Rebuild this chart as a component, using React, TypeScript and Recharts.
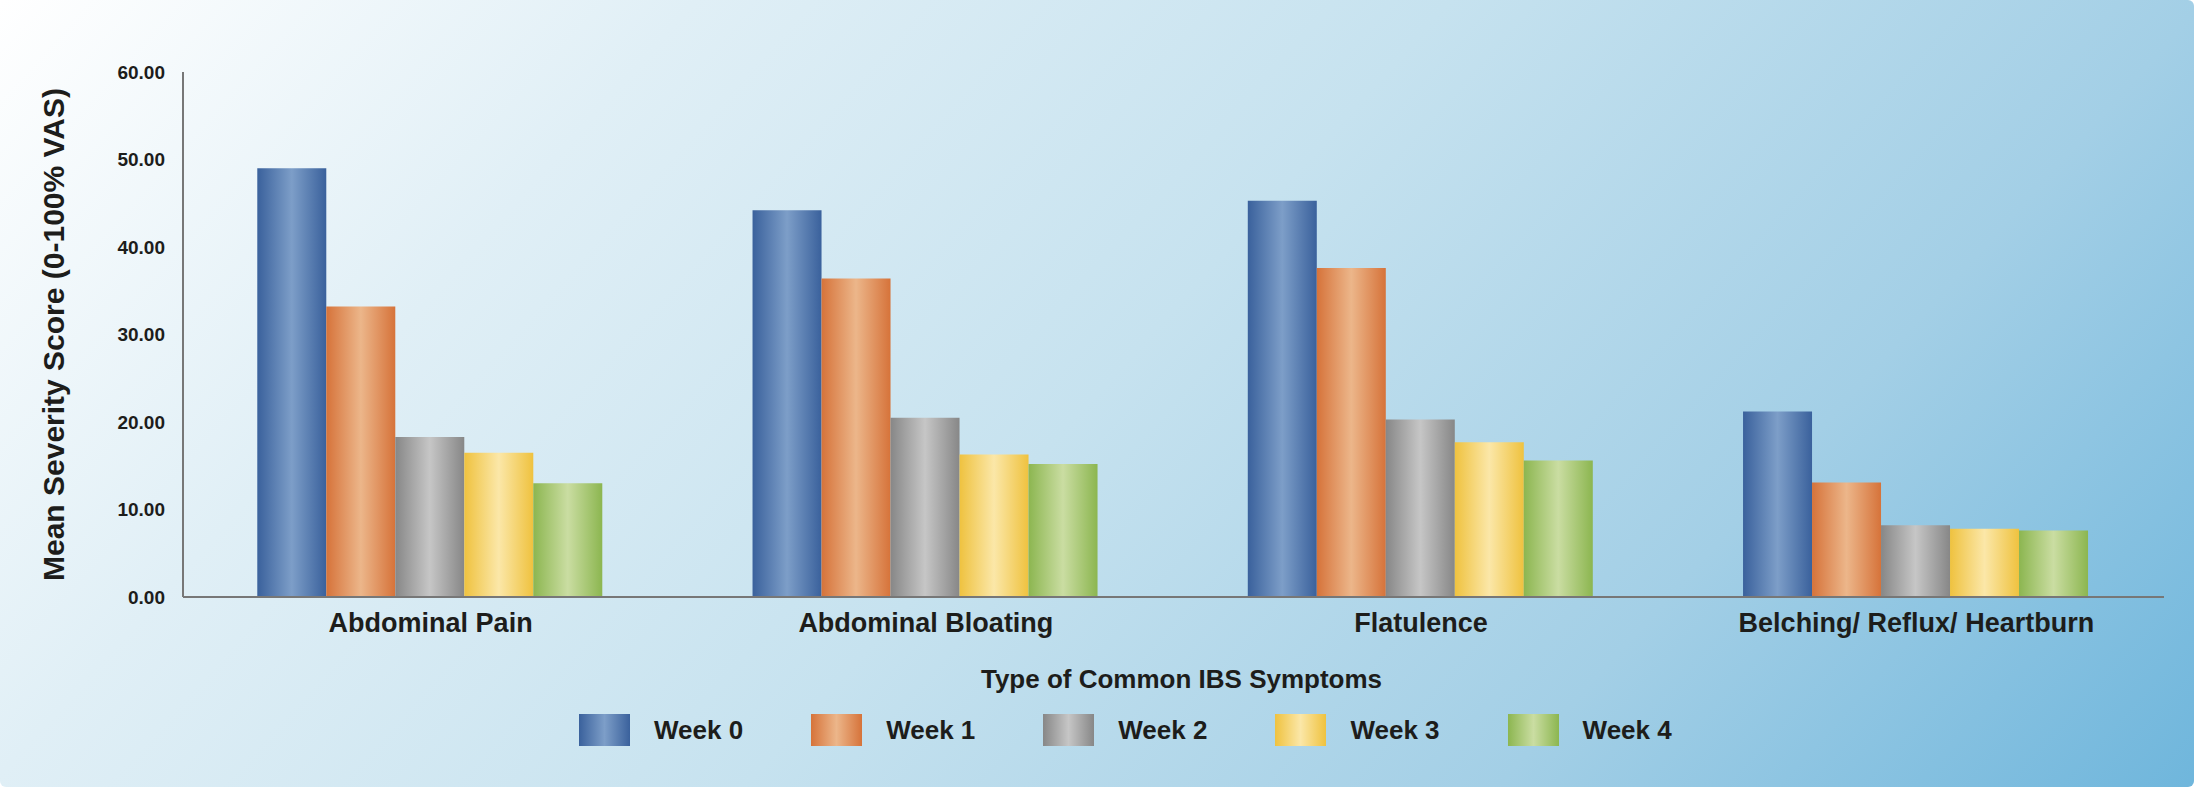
import { BarChart, Bar, XAxis, YAxis } from 'recharts'

const categories = [
  'Abdominal Pain',
  'Abdominal Bloating',
  'Flatulence',
  'Belching/ Reflux/ Heartburn',
]
const week0 = [49.0, 44.2, 45.3, 21.2]
const week1 = [33.2, 36.4, 37.6, 13.1]
const week2 = [18.3, 20.5, 20.3, 8.2]
const week3 = [16.5, 16.3, 17.7, 7.8]
const week4 = [13.0, 15.2, 15.6, 7.6]
const yTicks = [0, 10, 20, 30, 40, 50, 60]

const series = [
  { key: 'w0', name: 'Week 0', values: week0, edge: '#3a619c', mid: '#7d9ec8' },
  { key: 'w1', name: 'Week 1', values: week1, edge: '#d6733a', mid: '#ecb68a' },
  { key: 'w2', name: 'Week 2', values: week2, edge: '#878787', mid: '#c6c6c6' },
  { key: 'w3', name: 'Week 3', values: week3, edge: '#efc23f', mid: '#fbe7a8' },
  { key: 'w4', name: 'Week 4', values: week4, edge: '#8cb650', mid: '#cadda2' },
]

const data = categories.map((name, i) => {
  const row: Record<string, string | number> = { name }
  for (const s of series) row[s.key] = s.values[i]
  return row
})

const FONT = '"Liberation Sans", Arial, sans-serif'
const INK = '#1d1d1b'
const AXIS = '#777777'

function LegendBox() {
  return (
    <div
      style={{
        position: 'absolute',
        left: 579,
        top: 714,
        display: 'flex',
        alignItems: 'center',
      }}
    >
      {series.map((s) => (
        <div
          key={s.key}
          style={{ display: 'flex', alignItems: 'center', marginRight: 68 }}
        >
          <div
            style={{
              width: 51,
              height: 32,
              background: `linear-gradient(to right, ${s.edge} 0%, ${s.mid} 50%, ${s.edge} 100%)`,
              marginRight: 24,
            }}
          />
          <span
            style={{
              fontFamily: FONT,
              fontWeight: 700,
              fontSize: 26,
              color: INK,
            }}
          >
            {s.name}
          </span>
        </div>
      ))}
    </div>
  )
}

export default function App() {
  return (
    <div
      style={{
        position: 'fixed',
        left: 0,
        top: 0,
        width: 2194,
        height: 787,
        borderRadius: 6,
        overflow: 'hidden',
        background:
          'linear-gradient(132deg, #ffffff 0%, #e0eff6 24%, #c6e2ef 50%, #a3cfe6 76%, #6fb6dc 100%)',
      }}
    >
      <BarChart
        width={2194}
        height={787}
        data={data}
        margin={{ top: 72, right: 30, bottom: 150, left: 0 }}
        barCategoryGap="15%"
        barGap={0}
      >
        <defs>
          {series.map((s) => (
            <linearGradient key={s.key} id={`grad-${s.key}`} x1="0" y1="0" x2="1" y2="0">
              <stop offset="0%" stopColor={s.edge} />
              <stop offset="50%" stopColor={s.mid} />
              <stop offset="100%" stopColor={s.edge} />
            </linearGradient>
          ))}
        </defs>
        <XAxis
          dataKey="name"
          height={40}
          tickLine={false}
          tickSize={0}
          tickMargin={16}
          axisLine={{ stroke: AXIS, strokeWidth: 2 }}
          tick={{ fontFamily: FONT, fontWeight: 700, fontSize: 27, fill: INK }}
          interval={0}
          label={{
            value: 'Type of Common IBS Symptoms',
            position: 'bottom',
            offset: 33,
            dx: 8,
            style: { fontFamily: FONT, fontWeight: 700, fontSize: 26, fill: INK },
          }}
        />
        <YAxis
          width={183}
          domain={[0, 60]}
          ticks={yTicks}
          tickFormatter={(v: number) => v.toFixed(2)}
          tickLine={false}
          tickSize={0}
          tickMargin={18}
          axisLine={{ stroke: AXIS, strokeWidth: 2 }}
          tick={{ fontFamily: FONT, fontWeight: 700, fontSize: 19, fill: INK }}
          label={{
            value: 'Mean Severity Score (0-100% VAS)',
            angle: -90,
            position: 'insideLeft',
            offset: 53,
            style: {
              fontFamily: FONT,
              fontWeight: 700,
              fontSize: 30,
              fill: INK,
              textAnchor: 'middle',
            },
          }}
        />
        {series.map((s) => (
          <Bar
            key={s.key}
            dataKey={s.key}
            name={s.name}
            fill={`url(#grad-${s.key})`}
            isAnimationActive={false}
          />
        ))}
      </BarChart>
      <LegendBox />
    </div>
  )
}
